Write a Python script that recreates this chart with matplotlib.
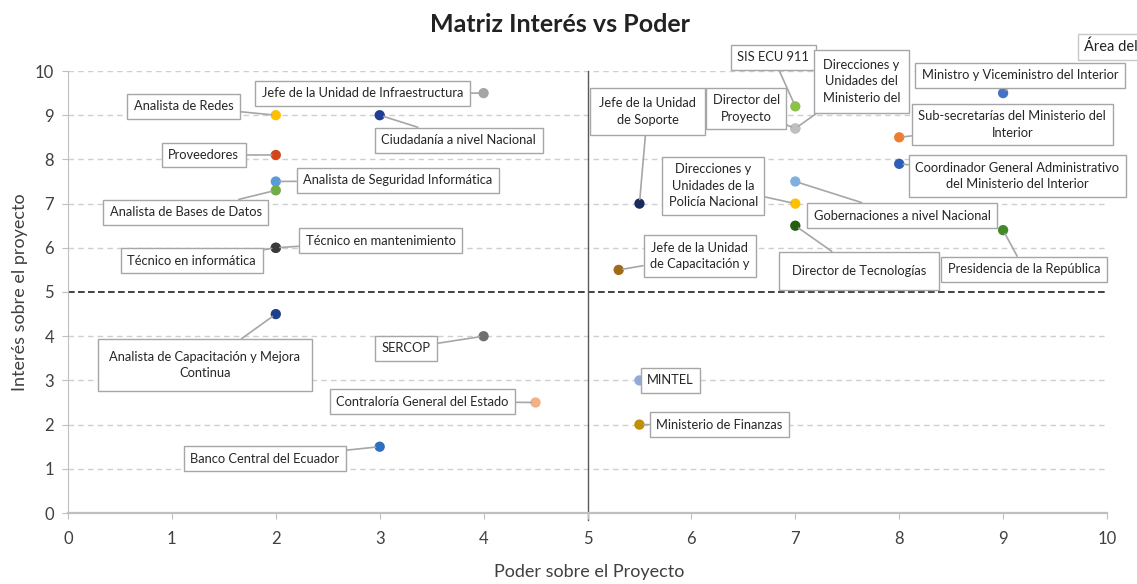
import matplotlib
matplotlib.use("Agg")
import matplotlib.pyplot as plt

plt.rcParams['font.family'] = ['Lato', 'DejaVu Sans']

# ---- data ----
labels = [
    "Jefe de la Unidad de Infraestructura",
    "Analista de Redes",
    "Ciudadanía a nivel Nacional",
    "Proveedores",
    "Analista de Seguridad Informática",
    "Analista de Bases de Datos",
    "Técnico en mantenimiento",
    "Técnico en informática",
    "Analista de Capacitación y Mejora\nContinua",
    "SERCOP",
    "Contraloría General del Estado",
    "Banco Central del Ecuador",
    "MINTEL",
    "Ministerio de Finanzas",
    "Jefe de la Unidad\nde Soporte",
    "Jefe de la Unidad\nde Capacitación y",
    "SIS ECU 911",
    "Director del\nProyecto",
    "Direcciones y\nUnidades del\nMinisterio del",
    "Ministro y Viceministro del Interior",
    "Sub-secretarías del Ministerio del\nInterior",
    "Coordinador General Administrativo\ndel Ministerio del Interior",
    "Gobernaciones a nivel Nacional",
    "Direcciones y\nUnidades de la\nPolicía Nacional",
    "Director de Tecnologías",
    "Presidencia de la República",
]
poder = [4, 2, 3, 2, 2, 2, 2, 2, 2, 4, 4.5, 3, 5.5, 5.5, 5.5, 5.3, 7, 7, 7, 9, 8, 8, 7, 7, 7, 9]
interes = [9.5, 9, 9, 8.1, 7.5, 7.3, 6, 6, 4.5, 4, 2.5, 1.5, 3, 2, 7, 5.5, 9.2, 8.7, 8.7, 9.5, 8.5, 7.9, 7.5, 7, 6.5, 6.4]

# ---- styles ----
colors = ["#a5a5a5", "#ffc000", "#1f3f95", "#d2461a", "#5b9bd5", "#70ad47", "#3a3a3a", "#3a3a3a",
          "#1f3f8a", "#6f6f6f", "#f4b183", "#2e6fc4", "#8faadc", "#bf9000", "#1a2a5e", "#9e6b1a",
          "#8bc34a", "#bfbfbf", "#bfbfbf", "#4472c4", "#ed7d31", "#2e5eb8", "#7fb1e0", "#ffc000",
          "#255e12", "#43892b"]
offsets = [(-121, 0), (-92, 9), (79, -25), (-72, 0), (122, 1), (-90, -22), (105, 7), (-84, -13),
           (-71, -51), (-78, -12), (-113, 1), (-115, -12), (31, 0), (80, 0), (8, 92), (81, 14),
           (-22, 49), (-49, 20), (66, 47), (17, 18), (113, 13), (118, -12), (107, -34), (-82, 18),
           (64, -45), (21, -39)]
pads = [0.5] * len(labels)
pads[24] = 1.0
pads[8] = 0.9
pads[18] = 0.7
pads[14] = 0.7

fig = plt.figure(figsize=(11.37, 5.84), dpi=100)
ax = fig.add_axes([68/1137, 1-513/584, (1107-68)/1137, (513-71)/584])

ax.set_xlim(0, 10)
ax.set_ylim(0, 10)
ax.set_xticks(range(0, 11))
ax.set_yticks(range(0, 11))
ax.tick_params(axis='both', labelsize=12, colors='#404040', length=4, width=0.8)
ax.tick_params(axis='x', color='#bfbfbf', pad=9)
ax.tick_params(axis='y', color='#bfbfbf', pad=6)
for s in ['top', 'right']:
    ax.spines[s].set_visible(False)
ax.spines['left'].set_color('#bfbfbf')
ax.spines['bottom'].set_color('#bfbfbf')
ax.spines['bottom'].set_linewidth(1.6)

for yv in range(1, 11):
    if yv == 5:
        continue
    ax.axhline(yv, color='#cfcfcf', lw=1, ls=(0, (4, 3)), zorder=0)
ax.axhline(5, color='#222222', lw=1.2, ls=(0, (4, 2)), zorder=1)
ax.plot([5, 5], [-0.15, 10], color='#595959', lw=1, clip_on=False, zorder=1)

ax.scatter(poder, interes, s=55, c=colors, zorder=5, edgecolors='none')

for lab, x, y, (dx, dy), pad in zip(labels, poder, interes, offsets, pads):
    ax.annotate(lab, (x, y), xytext=(dx, dy), textcoords='offset pixels',
                ha='center', va='center', multialignment='center', fontsize=9.3,
                color='#262626', zorder=6, linespacing=1.45,
                bbox=dict(boxstyle=f'square,pad={pad}', fc='white', ec='#a6a6a6', lw=1),
                arrowprops=dict(arrowstyle='-', color='#a6a6a6', lw=1.2, shrinkA=0, shrinkB=3))

fig.text(1084/1137, 1-47/584, "Área del", fontsize=10.5, va='center', ha='left', color='#222222',
         bbox=dict(boxstyle='square,pad=0.4', fc='white', ec='#c8c8c8', lw=1))

fig.suptitle("Matriz Interés vs Poder", x=560/1137, y=1-25/584, va='center',
             fontsize=18, fontweight='bold', color='#222222')
ax.set_xlabel("Poder sobre el Proyecto", fontsize=13, color='#404040')
ax.set_ylabel("Interés sobre el proyecto", fontsize=13, color='#404040')
ax.xaxis.set_label_coords((589-68)/(1107-68), -(564-513)/(513-71))
ax.yaxis.set_label_coords(-(68-28)/(1107-68), 0.5)

fig.savefig("out.png", dpi=100)
